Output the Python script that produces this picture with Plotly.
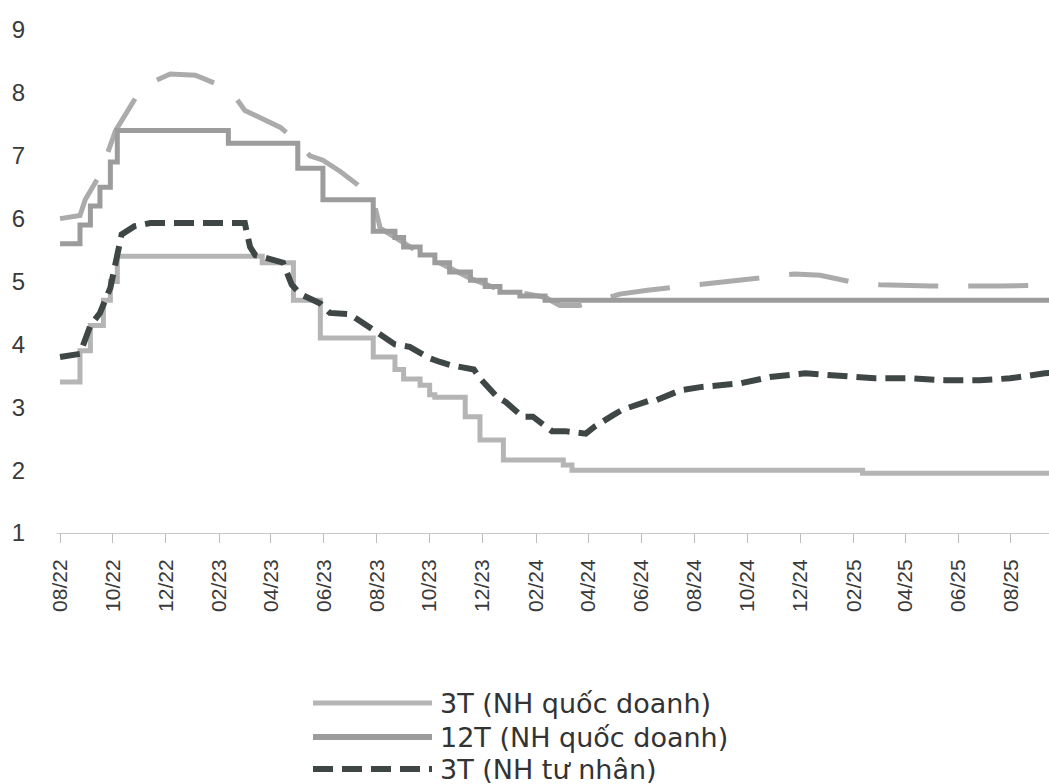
import plotly.graph_objects as go

# Lãi suất huy động (%/năm): kỳ hạn 3 tháng và 12 tháng, NH quốc doanh và NH tư nhân

# 3T (NH quốc doanh) - step changes
qd3_dates = ["2022-08-01", "2022-08-24", "2022-09-05", "2022-09-20", "2022-09-28", "2022-10-06",
             "2023-03-22", "2023-04-27", "2023-05-28", "2023-07-28", "2023-08-22", "2023-09-01",
             "2023-09-20", "2023-10-01", "2023-10-07", "2023-11-11", "2023-11-28", "2023-12-25",
             "2024-03-03", "2024-03-13", "2025-02-11", "2025-09-20"]
qd3_values = [3.4, 3.9, 4.3, 4.7, 5.0, 5.4,
              5.3, 4.7, 4.1, 3.8, 3.6, 3.45,
              3.35, 3.2, 3.16, 2.85, 2.48, 2.16,
              2.08, 2.0, 1.95, 1.95]

# 12T (NH quốc doanh) - step changes
qd12_dates = ["2022-08-01", "2022-08-24", "2022-09-05", "2022-09-16", "2022-09-28", "2022-10-06",
              "2023-02-11", "2023-05-02", "2023-05-31", "2023-07-28", "2023-08-22", "2023-09-01",
              "2023-09-20", "2023-10-07", "2023-10-24", "2023-11-17", "2023-12-04", "2023-12-21",
              "2024-01-13", "2024-02-11", "2025-09-20"]
qd12_values = [5.6, 5.9, 6.2, 6.5, 6.9, 7.4,
               7.2, 6.8, 6.3, 5.8, 5.7, 5.55,
               5.42, 5.3, 5.15, 5.02, 4.92, 4.83,
               4.77, 4.7, 4.7]

# 3T (NH tư nhân)
tn3_dates = ["2022-08-01", "2022-08-24", "2022-09-05", "2022-09-16", "2022-09-28", "2022-10-06",
             "2022-10-11", "2022-10-26", "2022-11-13", "2023-03-02", "2023-03-08", "2023-03-14",
             "2023-04-15", "2023-04-25", "2023-05-05", "2023-05-28", "2023-06-08", "2023-07-01",
             "2023-07-24", "2023-08-22", "2023-09-08", "2023-10-01", "2023-10-13", "2023-10-25",
             "2023-11-21", "2023-11-28", "2023-12-18", "2023-12-28", "2024-01-16", "2024-01-28",
             "2024-02-19", "2024-03-05", "2024-03-29", "2024-04-08", "2024-04-29", "2024-05-10",
             "2024-06-09", "2024-06-18", "2024-07-16", "2024-08-08", "2024-09-23", "2024-10-27",
             "2024-12-07", "2025-01-16", "2025-02-25", "2025-04-07", "2025-05-17", "2025-06-26",
             "2025-07-31", "2025-09-09", "2025-09-20"]
tn3_values = [3.8, 3.85, 4.3, 4.5, 4.9, 5.4,
              5.75, 5.88, 5.93, 5.93, 5.55, 5.42,
              5.3, 4.95, 4.8, 4.65, 4.5, 4.48,
              4.26, 4.0, 3.96, 3.78, 3.72, 3.67,
              3.6, 3.46, 3.16, 3.08, 2.85, 2.85,
              2.62, 2.62, 2.58, 2.69, 2.87, 2.96,
              3.1, 3.11, 3.27, 3.32, 3.38, 3.48,
              3.54, 3.51, 3.46, 3.46, 3.43, 3.43,
              3.46, 3.54, 3.55]

# 12T (NH tư nhân)
tn12_dates = ["2022-08-01", "2022-08-24", "2022-08-30", "2022-09-16", "2022-10-04", "2022-10-21",
              "2022-11-04", "2022-12-06", "2023-01-04", "2023-01-27", "2023-02-13", "2023-03-02",
              "2023-04-12", "2023-04-29", "2023-05-16", "2023-05-31", "2023-06-20", "2023-07-09",
              "2023-07-28", "2023-08-05", "2023-08-22", "2023-09-08", "2023-09-26", "2023-10-19",
              "2023-11-17", "2023-12-15", "2024-01-13", "2024-02-11", "2024-02-28", "2024-03-22",
              "2024-04-14", "2024-05-07", "2024-06-08", "2024-07-16", "2024-08-21", "2024-09-23",
              "2024-10-27", "2024-11-25", "2024-12-24", "2025-01-27", "2025-03-03", "2025-04-30",
              "2025-07-19", "2025-09-20"]
tn12_values = [6.0, 6.05, 6.3, 6.7, 7.4, 7.8,
               8.1, 8.3, 8.28, 8.15, 8.05, 7.72,
               7.45, 7.25, 7.0, 6.93, 6.75, 6.55,
               6.3, 5.85, 5.7, 5.55, 5.4, 5.25,
               5.05, 4.9, 4.82, 4.75, 4.62, 4.62,
               4.7, 4.8, 4.86, 4.92, 4.98, 5.02,
               5.08, 5.12, 5.1, 5.0, 4.95, 4.93,
               4.93, 4.94]

legend_labels = ["3T (NH quốc doanh)", "12T (NH quốc doanh)", "3T (NH tư nhân)"]

C_QD3 = "#b5b5b5"
C_QD12 = "#9c9c9c"
C_TN3 = "#3f4646"
C_TN12 = "#ababab"

fig = go.Figure()
fig.add_trace(go.Scatter(x=tn12_dates, y=tn12_values, mode="lines", name="12T (NH tư nhân)",
                         line=dict(color=C_TN12, width=5, dash="60px,30px"), showlegend=False))
fig.add_trace(go.Scatter(x=qd12_dates, y=qd12_values, mode="lines", name=legend_labels[1],
                         line=dict(color=C_QD12, width=5, shape="hv"), showlegend=False))
fig.add_trace(go.Scatter(x=qd3_dates, y=qd3_values, mode="lines", name=legend_labels[0],
                         line=dict(color=C_QD3, width=5, shape="hv"), showlegend=False))
fig.add_trace(go.Scatter(x=tn3_dates, y=tn3_values, mode="lines", name=legend_labels[2],
                         line=dict(color=C_TN3, width=6, dash="20px,9px"), showlegend=False))

# plot area geometry (pixels)
W, H = 1049, 784
L, R, T, B = 57, 0, 30, 251
pw, ph = W - L - R, H - T - B


def px_x(x):
    return (x - L) / pw


def px_y(y):
    return (H - B - y) / ph


# legend drawn below the axis
leg_rows = [703, 737, 769]
leg_styles = [dict(color=C_QD3, width=5), dict(color=C_QD12, width=6),
              dict(color=C_TN3, width=6, dash="20px,9px")]
for lbl, yy, st in zip(legend_labels, leg_rows, leg_styles):
    fig.add_shape(type="line", xref="paper", yref="paper",
                  x0=px_x(313), x1=px_x(432), y0=px_y(yy), y1=px_y(yy), line=st)
    fig.add_annotation(xref="paper", yref="paper", x=px_x(438), y=px_y(yy),
                       xanchor="left", yanchor="middle", showarrow=False, text=lbl,
                       font=dict(family="DejaVu Sans", size=27, color="#333333"))

fig.update_layout(
    width=W, height=H,
    margin=dict(l=L, r=R, t=T, b=B),
    paper_bgcolor="white", plot_bgcolor="white",
    showlegend=False,
    font=dict(family="Liberation Sans", color="#333333"),
)
fig.update_xaxes(
    type="date",
    range=["2022-07-28 12:00", "2025-09-13 20:00"],
    tick0="2022-08-01", dtick="M2", tickformat="%m/%y",
    tickangle=-90, ticks="outside", ticklen=9, tickcolor="#bdbdbd",
    ticklabelstandoff=8,
    showline=True, linecolor="#c8c8c8", linewidth=1,
    showgrid=False, zeroline=False,
    tickfont=dict(family="Liberation Sans", size=21, color="#3a3a3a"),
)
fig.update_yaxes(
    range=[1, 9], dtick=1, tick0=1,
    ticks="outside", ticklen=26, tickcolor="rgba(0,0,0,0)",
    showline=False, showgrid=False, zeroline=False,
    tickfont=dict(family="Liberation Sans", size=24, color="#3a3a3a"),
)

fig.write_html("out.html")
